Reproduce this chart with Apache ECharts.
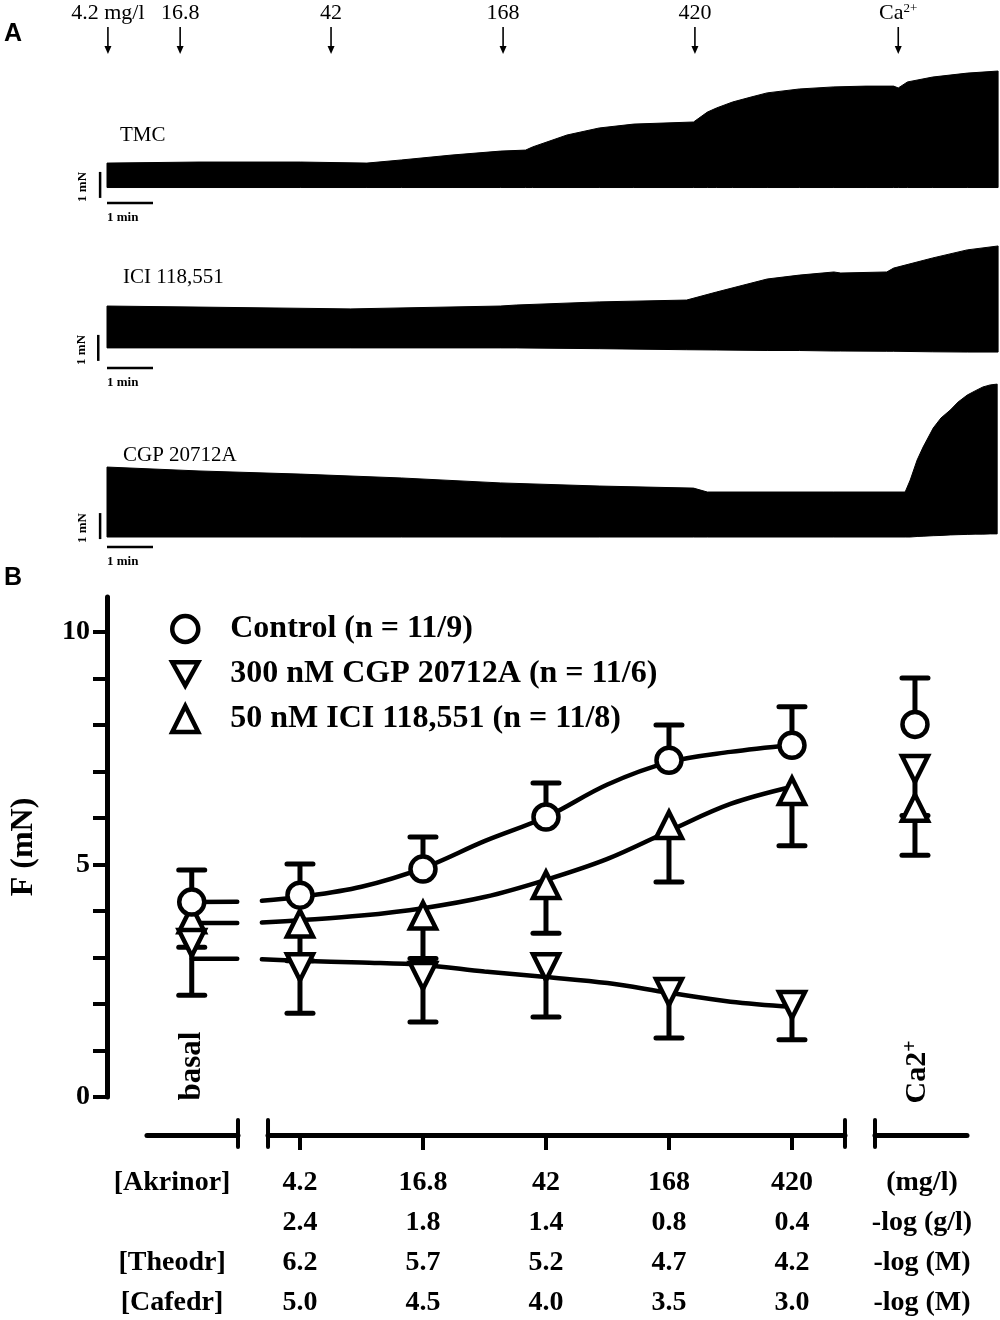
<!DOCTYPE html>
<html><head><meta charset="utf-8">
<script src="https://cdn.jsdelivr.net/npm/echarts@6/dist/echarts.min.js"></script>
<style>html,body{margin:0;padding:0;background:#fff}#c{width:1000px;height:1320px}</style>
</head><body><div id="c"></div>
<script>
// ---------------- Panel A data (force traces, mN; time in min) ----------------
const tmcTime   = [0, 2, 4.2, 5.65, 6.4, 7.5, 8.55, 9.1, 9.25, 10, 10.7, 11.45, 12.75, 13.05, 13.25, 13.6, 14, 14.35, 15.05, 15.8, 16.5, 17.1, 17.2, 17.4, 17.95, 18.7, 19.37];
const tmcTop    = [1.42, 1.46, 1.46, 1.42, 1.54, 1.73, 1.88, 1.92, 2.04, 2.5, 2.77, 2.92, 3.0, 3.38, 3.54, 3.77, 3.96, 4.12, 4.27, 4.35, 4.38, 4.38, 4.31, 4.54, 4.73, 4.88, 4.96];
const tmcBottom = [0.48, 0.48, 0.48, 0.48, 0.48, 0.48, 0.48, 0.48, 0.48, 0.48, 0.48, 0.48, 0.48, 0.48, 0.48, 0.48, 0.48, 0.48, 0.48, 0.48, 0.48, 0.48, 0.48, 0.48, 0.48, 0.48, 0.48];

const iciTime   = [0, 2, 5.3, 8.55, 8.9, 10.7, 12.6, 13.25, 14.35, 15.05, 15.8, 15.95, 16.95, 17.1, 17.95, 18.7, 19.37];
const iciTop    = [2.46, 2.42, 2.35, 2.46, 2.5, 2.62, 2.69, 3.0, 3.5, 3.65, 3.77, 3.73, 3.77, 3.92, 4.31, 4.62, 4.77];
const iciBottom = [0.85, 0.85, 0.85, 0.85, 0.85, 0.82, 0.78, 0.77, 0.75, 0.75, 0.73, 0.73, 0.72, 0.72, 0.7, 0.69, 0.69];

const cgpTime   = [0, 2, 4.2, 6.4, 8.55, 10.7, 12.75, 13.05, 15.8, 17.35, 17.46, 17.61, 17.74, 17.96, 18.13, 18.33, 18.5, 18.7, 18.87, 19.04, 19.2, 19.35];
const cgpTop    = [3.19, 3.04, 2.92, 2.77, 2.58, 2.46, 2.38, 2.23, 2.23, 2.23, 2.69, 3.46, 3.96, 4.69, 5.08, 5.38, 5.69, 5.96, 6.12, 6.27, 6.35, 6.38];
const cgpBottom = [0.5, 0.5, 0.5, 0.5, 0.5, 0.5, 0.5, 0.5, 0.5, 0.5, 0.5, 0.52, 0.53, 0.55, 0.56, 0.58, 0.59, 0.6, 0.61, 0.61, 0.62, 0.62];

const traceNames = ['TMC', 'ICI 118,551', 'CGP 20712A'];
const additionTimes  = [0.02, 1.59, 4.87, 8.61, 12.78, 17.2];
const additionLabels = ['4.2 mg/l', '16.8', '42', '168', '420', 'Ca2+'];

// ---------------- Panel B data ----------------
const doseX = [0.12, 1, 2, 3, 4, 5, 6.0];   // basal, 4.2 ... 420 mg/l, Ca2+
const controlMean = [4.19, 4.34, 4.9, 6.02, 7.24, 7.56, 8.01];
const controlSem  = [0.69, 0.67, 0.69, 0.73, 0.76, 0.83, 1.0];
const cgpMean = [3.31, 2.79, 2.6, 2.79, 2.26, 1.98, 7.05];
const cgpSem  = [1.12, 0.99, 0.99, 1.07, 0.99, 0.75, 1.0];
const iciMean = [3.82, 3.73, 3.9, 4.56, 5.85, 6.58, 6.22];
const iciSem  = [0.6, 0.8, 0.92, 1.04, 1.23, 1.18, 1.02];

const curveX     = [0.12, 0.49, 0.59, 0.69, 1, 1.5, 2, 2.5, 3, 3.5, 4, 4.5, 5];
const controlFit = [4.19, 4.2, null, 4.22, 4.3, 4.52, 4.92, 5.5, 6.02, 6.72, 7.2, 7.42, 7.57];
const iciFit     = [3.74, 3.74, null, 3.75, 3.8, 3.9, 4.06, 4.3, 4.67, 5.12, 5.72, 6.3, 6.67];
const cgpFit     = [2.97, 2.97, null, 2.96, 2.93, 2.89, 2.84, 2.7, 2.58, 2.45, 2.24, 2.05, 1.94];

const legendNames = ['Control (n = 11/9)', '300 nM CGP 20712A (n = 11/6)', '50 nM ICI 118,551 (n = 11/8)'];
const yTicks = [0, 1, 2, 3, 4, 5, 6, 7, 8, 9, 10];
const yLabels = [0, 5, 10];

const akrinorMg  = ['4.2', '16.8', '42', '168', '420'];
const akrinorLog = ['2.4', '1.8', '1.4', '0.8', '0.4'];
const theodrLog  = ['6.2', '5.7', '5.2', '4.7', '4.2'];
const cafedrLog  = ['5.0', '4.5', '4.0', '3.5', '3.0'];
const rowNames   = ['[Akrinor]', ' ', '[Theodr]', '[Cafedr]'];
const rowUnits   = ['(mg/l)', '-log (g/l)', '-log (M)', '-log (M)'];

// ---------------- layout ----------------
const SERIF = 'Liberation Serif';
const traceGrids = [
  {left: 107, top: 60, width: 892, height: 140},
  {left: 107, top: 230, width: 892, height: 140},
  {left: 107, top: 370, width: 892, height: 180}
];
const PX_PER_MN = 26;
const TIME_MAX = 19.39;
const scaleBarLayout = [
  {vx: -0.15, vy: 0.08, hy: -0.12},
  {vx: -0.19, vy: 0.35, hy: 0.08},
  {vx: -0.15, vy: 0.42, hy: 0.12}
];
const B = {left: 107, top: 597, width: 860, height: 500, xMin: -0.569, xMax: 6.423, yMax: 10.75};
const unitB = B.width / (B.xMax - B.xMin);
const segments = [[-0.244, 0.496], [0.74, 5.431], [5.675, 6.423]];
const segY = 1134;

const chart = echarts.init(document.getElementById('c'));
const traces = [
  {time: tmcTime, top: tmcTop, bottom: tmcBottom},
  {time: iciTime, top: iciTop, bottom: iciBottom},
  {time: cgpTime, top: cgpTop, bottom: cgpBottom}
];

const grid = [];
const xAxis = [];
const yAxis = [];
const series = [];

traceGrids.forEach((g, i) => {
  grid.push(Object.assign({outerBoundsMode: 'none', containLabel: false}, g));
  xAxis.push({gridIndex: i, type: 'value', min: 0, max: TIME_MAX, show: false});
  yAxis.push({gridIndex: i, type: 'value', min: 0, max: g.height / PX_PER_MN, show: false});
});
// arrows grid (index 3)
grid.push({left: 107, top: 0, width: 892, height: 60, outerBoundsMode: 'none'});
xAxis.push({gridIndex: 3, type: 'value', min: 0, max: TIME_MAX, show: false});
yAxis.push({gridIndex: 3, type: 'value', min: 0, max: 60, show: false});
// panel B grid (index 4)
grid.push({left: B.left, top: B.top, width: B.width, height: B.height, outerBoundsMode: 'none'});
xAxis.push({gridIndex: 4, type: 'value', min: B.xMin, max: B.xMax, show: false});
yAxis.push({
  gridIndex: 4, type: 'value', min: 0, max: B.yMax, position: 'left',
  axisLine: {show: true, onZero: false, lineStyle: {color: '#000', width: 5}},
  axisTick: {show: true, customValues: yTicks, length: 14, lineStyle: {color: '#000', width: 4}},
  axisLabel: {customValues: yLabels, margin: 17, color: '#000', fontFamily: SERIF, fontWeight: 'bold', fontSize: 28},
  splitLine: {show: false},
  name: 'F (mN)', nameLocation: 'middle', nameGap: 67, nameRotate: 90, nameMoveOverlap: false,
  nameTextStyle: {color: '#000', fontFamily: SERIF, fontWeight: 'bold', fontSize: 32}
});
// segment grids (5,6,7)
const tableFont = {color: '#000', fontFamily: SERIF, fontWeight: 'bold', fontSize: 28, lineHeight: 40};
segments.forEach((s, j) => {
  const gi = 5 + j;
  const left = B.left + (s[0] - B.xMin) * unitB;
  const width = (s[1] - s[0]) * unitB;
  grid.push({left: left, top: segY, width: width, height: 1, outerBoundsMode: 'none'});
  const ax = {
    gridIndex: gi, type: 'value', min: s[0], max: s[1], position: 'bottom',
    axisLine: {show: true, onZero: false, lineStyle: {color: '#000', width: 5, cap: 'round'}},
    splitLine: {show: false},
    axisTick: {show: false},
    axisLabel: Object.assign({margin: 28, verticalAlign: 'top', align: 'center'}, tableFont)
  };
  if (j === 0) {
    ax.axisLabel.customValues = [-0.04];
    ax.axisLabel.formatter = () => rowNames.join('\n');
  } else if (j === 1) {
    ax.axisTick = {show: true, customValues: doseX.slice(1, 6), length: 15, lineStyle: {color: '#000', width: 4}};
    ax.axisLabel.customValues = doseX.slice(1, 6);
    ax.axisLabel.formatter = (v) => {
      const k = Math.round(v) - 1;
      return [akrinorMg[k], akrinorLog[k], theodrLog[k], cafedrLog[k]].join('\n');
    };
  } else {
    ax.axisLabel.customValues = [6.057];
    ax.axisLabel.formatter = () => rowUnits.join('\n');
  }
  xAxis.push(ax);
  yAxis.push({gridIndex: gi, type: 'value', min: 0, max: 1, show: false});
  // break caps
  const caps = j === 0 ? [s[1]] : (j === 1 ? [s[0], s[1]] : [s[0]]);
  series.push({
    type: 'custom', xAxisIndex: gi, yAxisIndex: gi, clip: false, silent: true,
    data: caps.map(c => [c, 0]),
    renderItem: (params, api) => {
      const p = api.coord([api.value(0), 0]);
      return {type: 'line', shape: {x1: p[0], y1: p[1] - 15, x2: p[0], y2: p[1] + 12},
        style: {stroke: '#000', lineWidth: 4, lineCap: 'round'}};
    }
  });
});

// trace bands (filled envelope between bottom and top of the recording)
traces.forEach((tr, i) => {
  series.push({
    type: 'custom', xAxisIndex: i, yAxisIndex: i, clip: false, silent: true,
    data: [[tr.time[0], tr.top[0]]],
    renderItem: (params, api) => {
      const pts = [];
      for (let k = 0; k < tr.time.length; k++) pts.push(api.coord([tr.time[k], tr.top[k]]));
      for (let k = tr.time.length - 1; k >= 0; k--) pts.push(api.coord([tr.time[k], tr.bottom[k]]));
      return {type: 'polygon', shape: {points: pts}, style: {fill: '#000', stroke: '#000', lineWidth: 1}};
    }
  });
  // scale bars (1 mN, 1 min)
  series.push({
    type: 'custom', xAxisIndex: i, yAxisIndex: i, clip: false, silent: true,
    data: [[0, 0]],
    renderItem: (params, api) => {
      const c = scaleBarLayout[i];
      const v0 = api.coord([c.vx, c.vy]);
      const v1 = api.coord([c.vx, c.vy + 1]);
      const h0 = api.coord([0, c.hy]);
      const h1 = api.coord([1, c.hy]);
      return {type: 'group', children: [
        {type: 'line', shape: {x1: v0[0], y1: v0[1], x2: v1[0], y2: v1[1]}, style: {stroke: '#000', lineWidth: 2.5}},
        {type: 'line', shape: {x1: h0[0], y1: h0[1], x2: h1[0], y2: h1[1]}, style: {stroke: '#000', lineWidth: 2.5}},
        {type: 'text', x: v0[0] - 17, y: (v0[1] + v1[1]) / 2 + 2, rotation: Math.PI / 2,
          style: {text: '1 mN', fill: '#000', font: 'bold 13px "Liberation Serif"', align: 'center', verticalAlign: 'middle'}},
        {type: 'text', x: h0[0], y: h0[1] + 15,
          style: {text: '1 min', fill: '#000', font: 'bold 13px "Liberation Serif"', align: 'left', verticalAlign: 'middle'}}
      ]};
    }
  });
});

// addition arrows
series.push({
  type: 'custom', xAxisIndex: 3, yAxisIndex: 3, clip: false, silent: true,
  data: additionTimes.map((t, k) => [t, k]),
  renderItem: (params, api) => {
    const p = api.coord([api.value(0), 0]);
    const x = p[0], yb = p[1];
    const lab = additionLabels[api.value(1)];
    const txt = lab === 'Ca2+' ? '{n|Ca}{s|2+}' : '{n|' + lab + '}';
    return {type: 'group', children: [
      {type: 'text', x: x, y: yb - 47, style: {text: txt, fill: '#000', align: 'center', verticalAlign: 'middle',
        rich: {n: {fontFamily: SERIF, fontSize: 22, lineHeight: 22, fill: '#000'},
               s: {fontFamily: SERIF, fontSize: 13, lineHeight: 22, verticalAlign: 'top', fill: '#000'}}}},
      {type: 'line', shape: {x1: x, y1: yb - 33, x2: x, y2: yb - 11}, style: {stroke: '#000', lineWidth: 1.6}},
      {type: 'polygon', shape: {points: [[x - 3.5, yb - 14], [x + 3.5, yb - 14], [x, yb - 6]]}, style: {fill: '#000'}}
    ]};
  }
});

// panel B: fitted curves
[controlFit, cgpFit, iciFit].forEach((fit, k) => {
  series.push({
    type: 'line', name: 'fit' + k, xAxisIndex: 4, yAxisIndex: 4, symbol: 'none', smooth: 0.35, silent: true, z: 2,
    connectNulls: false,
    lineStyle: {color: '#000', width: 4.5, cap: 'round'},
    data: curveX.map((x, i) => [x, fit[i] === null ? '-' : fit[i]])
  });
});

// panel B: error bars (control upward, others downward)
const groups = [
  {mean: controlMean, sem: controlSem, dir: 1},
  {mean: cgpMean, sem: cgpSem, dir: -1},
  {mean: iciMean, sem: iciSem, dir: -1}
];
groups.forEach((g, k) => {
  series.push({
    type: 'custom', name: 'err' + k, xAxisIndex: 4, yAxisIndex: 4, silent: true, z: 3,
    encode: {x: 0, y: 1},
    data: doseX.map((x, i) => [x, g.mean[i], g.sem[i]]),
    renderItem: (params, api) => {
      const x = api.value(0), m = api.value(1), s = api.value(2);
      const p0 = api.coord([x, m]);
      const p1 = api.coord([x, m + g.dir * s]);
      return {type: 'group', children: [
        {type: 'line', shape: {x1: p0[0], y1: p0[1], x2: p1[0], y2: p1[1]}, style: {stroke: '#000', lineWidth: 5}},
        {type: 'line', shape: {x1: p1[0] - 13, y1: p1[1], x2: p1[0] + 13, y2: p1[1]}, style: {stroke: '#000', lineWidth: 5, lineCap: 'round'}}
      ]};
    }
  });
});

// panel B: markers
const markerStyle = {color: '#fff', borderColor: '#000', borderWidth: 4.5, opacity: 1};
series.push({type: 'scatter', name: legendNames[2], xAxisIndex: 4, yAxisIndex: 4, symbol: 'triangle', symbolSize: 26, z: 5,
  itemStyle: markerStyle, data: doseX.map((x, i) => [x, iciMean[i]])});
series.push({type: 'scatter', name: legendNames[1], xAxisIndex: 4, yAxisIndex: 4, symbol: 'triangle', symbolRotate: 180, symbolSize: 26, z: 6,
  itemStyle: markerStyle, data: doseX.map((x, i) => [x, cgpMean[i]])});
series.push({type: 'scatter', name: legendNames[0], xAxisIndex: 4, yAxisIndex: 4, symbol: 'circle', symbolSize: 25, z: 7,
  itemStyle: markerStyle, data: doseX.map((x, i) => [x, controlMean[i]])});

chart.setOption({
  animation: false,
  backgroundColor: '#fff',
  grid: grid, xAxis: xAxis, yAxis: yAxis, series: series,
  legend: {
    orient: 'vertical', left: 170, top: 613, padding: 0, itemGap: 13, itemWidth: 26, itemHeight: 26,
    selectedMode: false,
    itemStyle: {color: '#fff', borderColor: '#000', borderWidth: 4.5, opacity: 1},
    textStyle: {fontFamily: SERIF, fontWeight: 'bold', fontSize: 32, color: '#000', lineHeight: 26, padding: [0, 0, 0, 27]},
    data: [
      {name: legendNames[0], icon: 'circle'},
      {name: legendNames[1], icon: 'path://M0,0L20,0L10,18Z'},
      {name: legendNames[2], icon: 'triangle'}
    ]
  }
});

// text decorations placed from chart coordinates
const pBasal = chart.convertToPixel({xAxisIndex: 4, yAxisIndex: 4}, [doseX[0], 0]);
const pCa = chart.convertToPixel({xAxisIndex: 4, yAxisIndex: 4}, [doseX[6], 0]);
const traceLabelPos = traceGrids.map((g, i) => chart.convertToPixel({xAxisIndex: i, yAxisIndex: i}, [0, 0]));
chart.setOption({
  graphic: [
    {type: 'text', left: 4, top: 22, style: {text: 'A', fill: '#000', font: 'bold 25px "Liberation Sans"'}},
    {type: 'text', left: 4, top: 566, style: {text: 'B', fill: '#000', font: 'bold 25px "Liberation Sans"'}},
    {type: 'text', x: traceLabelPos[0][0] + 13, y: 135, style: {text: traceNames[0], fill: '#000', font: '21px "Liberation Serif"', verticalAlign: 'middle'}},
    {type: 'text', x: traceLabelPos[1][0] + 16, y: 277, style: {text: traceNames[1], fill: '#000', font: '21px "Liberation Serif"', verticalAlign: 'middle'}},
    {type: 'text', x: traceLabelPos[2][0] + 16, y: 455, style: {text: traceNames[2], fill: '#000', font: '21px "Liberation Serif"', verticalAlign: 'middle'}},
    {type: 'text', x: pBasal[0], y: pBasal[1] - 31, rotation: Math.PI / 2,
      style: {text: 'basal', fill: '#000', font: 'bold 31px "Liberation Serif"', align: 'center', verticalAlign: 'middle'}},
    {type: 'text', x: pCa[0] + 2, y: pCa[1] - 25, rotation: Math.PI / 2,
      style: {text: '{n|Ca2}{s|+}', fill: '#000', align: 'center', verticalAlign: 'middle',
        rich: {n: {fontFamily: SERIF, fontWeight: 'bold', fontSize: 30, lineHeight: 32, fill: '#000'},
               s: {fontFamily: SERIF, fontWeight: 'bold', fontSize: 20, lineHeight: 32, verticalAlign: 'top', fill: '#000'}}}}
  ]
});
</script>
</body></html>
